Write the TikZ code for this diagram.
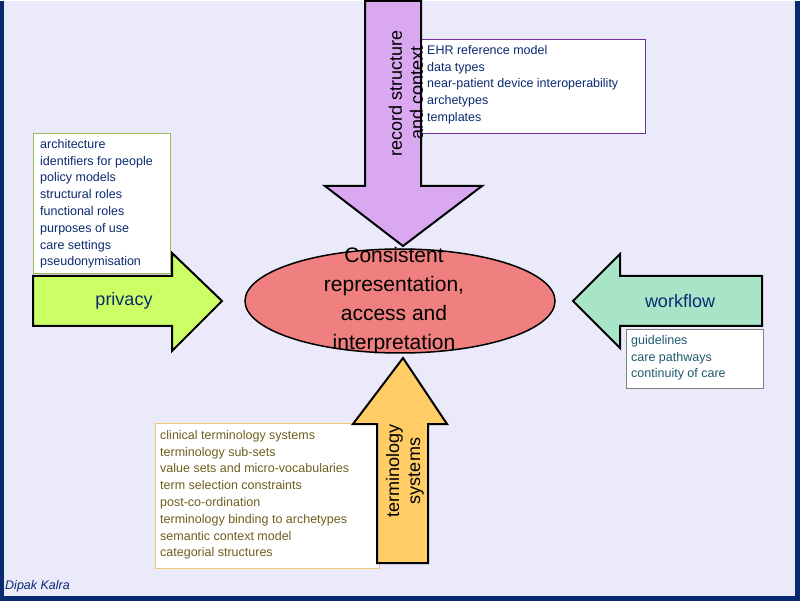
\documentclass[tikz,border=0pt]{standalone}
\usepackage{fontspec}
\setmainfont{Liberation Sans}
\begin{document}
\begin{tikzpicture}[x=1pt,y=-1pt,
 arr/.style={draw=black,line width=2pt,line join=miter},
 box/.style={draw=#1,line width=1.2pt,fill=white},
 big/.style={font=\fontsize{18}{21}\selectfont},
 lst/.style={anchor=north west,align=left,font=\fontsize{12.5}{16.8}\selectfont,inner sep=0pt}]
\definecolor{bg}{HTML}{EAEAFA}\definecolor{navy}{HTML}{0A2A70}
\definecolor{purp}{HTML}{D9A8F0}\definecolor{purpb}{HTML}{7030A0}
\definecolor{lgreen}{HTML}{CCFF66}\definecolor{olive}{HTML}{9BBB59}
\definecolor{mint}{HTML}{A8E4C8}\definecolor{teal2}{HTML}{1E5A6E}
\definecolor{orng}{HTML}{FFCC66}\definecolor{tan}{HTML}{F0C878}
\definecolor{brn}{HTML}{6E5F1E}\definecolor{salmon}{HTML}{F08080}
\fill[bg] (0,0) rectangle (800,600);
\fill[navy] (0,0) rectangle (4,600);
\fill[navy] (795,0) rectangle (800,600);
\fill[navy] (0,595) rectangle (800,600);
% top
\node[box=purpb,minimum width=224,minimum height=94,anchor=north west] (tb) at (421,38) {};
\draw[arr,fill=purp] (365,0)--(421,0)--(421,185)--(482,185)--(403,245)--(325,185)--(365,185)--cycle;
\node[rotate=90,align=center,big] (rs) at (406,92) {record structure\\and context};
\node[lst,text=navy] (tt) at (427,44) {EHR reference model\\data types\\near-patient device interoperability\\archetypes\\templates};
% left
\node[box=olive,minimum width=137,minimum height=140,anchor=north west] (lb) at (33,132) {};
\node[lst,text=navy] (lt) at (40,138) {architecture\\identifiers for people\\policy models\\structural roles\\functional roles\\purposes of use\\care settings\\pseudonymisation};
\draw[arr,fill=lgreen] (33,275)--(172,275)--(172,252)--(222,300)--(172,350)--(172,325)--(33,325)--cycle;
\node[text=navy,big] (pr) at (124,300) {privacy};
% right
\draw[arr,fill=mint] (762,275)--(620,275)--(620,253)--(573,300)--(620,347)--(620,325)--(762,325)--cycle;
\node[text=navy,big] (wf) at (680,300) {workflow};
\node[box=gray,minimum width=137,minimum height=59,anchor=north west] (rb) at (626,328) {};
\node[lst,text=teal2] (rt) at (631,334) {guidelines\\care pathways\\continuity of care};
% bottom
\node[box=tan,minimum width=224,minimum height=145,anchor=north west] (bb) at (155,422) {};
\draw[arr,fill=orng] (377,562)--(428,562)--(428,423)--(447,423)--(403,357)--(353,423)--(377,423)--cycle;
\node[rotate=90,align=center,big] (ts) at (405,470) {terminology\\systems};
\node[lst,text=brn] (bt) at (160,429) {clinical terminology systems\\terminology sub-sets\\value sets and micro-vocabularies\\term selection constraints\\post-co-ordination\\terminology binding to archetypes\\semantic context model\\categorial structures};
% ellipse
\draw[line width=1.5pt,fill=salmon] (400,300) ellipse [x radius=155,y radius=52];
\node[align=center,font=\fontsize{21}{29}\selectfont] (c) at (394,300) {Consistent\\representation,\\access and\\interpretation};
\node[anchor=west,font=\itshape\fontsize{12.5}{14}\selectfont,text=navy,inner sep=0pt] (dk) at (5,585) {Dipak Kalra};
\end{tikzpicture}
\end{document}
